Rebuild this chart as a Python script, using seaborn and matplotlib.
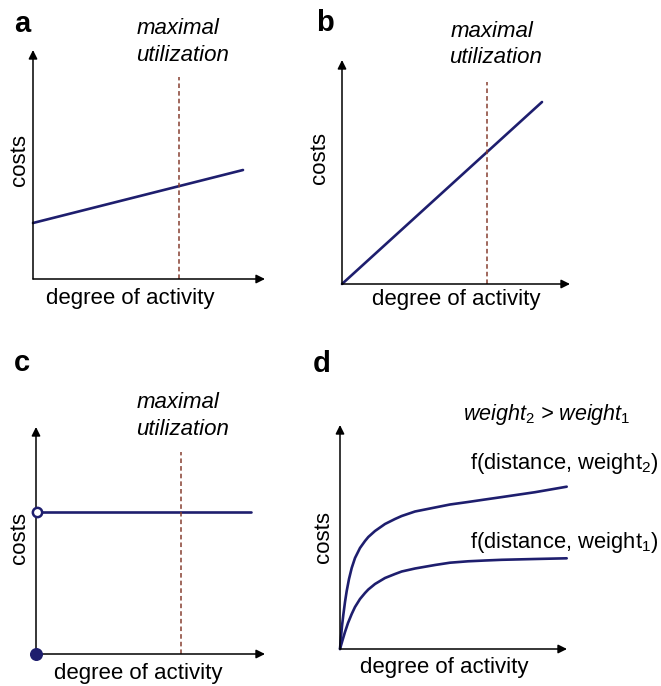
import numpy as np
import pandas as pd
import matplotlib
matplotlib.use("Agg")
import matplotlib.pyplot as plt
import seaborn as sns

# values (units: pixels from each panel's origin)
a_x = [0, 210]
a_y = [56, 109]
b_x = [0, 200]
b_y = [0, 182]
c_x = [0, 215]
c_y = [142, 142]
d_x2 = [0, 1, 2, 3.3, 5, 6.7, 9, 11.7, 15, 20, 25, 28.3, 35, 45, 55, 61.7,
        75, 95, 110, 128, 145, 161.7, 178, 195, 210, 226.7]
d_w2 = [0, 12, 23, 34, 47, 58, 70, 81, 91, 101, 108, 112, 118, 125, 130, 133,
        137.5, 141.5, 144.5, 147, 149.5, 151.9, 154.3, 156.8, 159.4, 162.3]
d_x1 = [0, 2, 5, 8, 11.7, 15, 20, 25, 28.3, 35, 45, 55, 61.7, 75, 95, 110,
        128, 145, 161.7, 195, 226.7]
d_w1 = [0, 7, 17, 26, 35, 42, 50, 56, 59.5, 65, 71, 75, 77.5, 80.5, 84,
        86.3, 87.7, 88.5, 89.2, 90, 90.7]
max_util = {"a": 146, "b": 145, "c": 145}
max_util_top = 202

sns.set_theme(style="white")
plt.rcParams["font.family"] = ["Liberation Sans", "DejaVu Sans"]
plt.rcParams["text.color"] = "black"
plt.rcParams["mathtext.fontset"] = "custom"
plt.rcParams["mathtext.rm"] = "Liberation Sans"
plt.rcParams["mathtext.it"] = "Liberation Sans:italic"

W, H = 661, 686
fig = plt.figure(figsize=(W / 100, H / 100), dpi=100)
fig.patch.set_facecolor("white")

LINE = "#1e1e6e"
DASH = "#863f30"


def px(x, y):
    return x / W, 1 - y / H


def make_axes(x0, y0, x1, ytop):
    # x0,y0 = origin in pixels, x1 = end of x arrow, ytop = tip of y arrow
    w, h = x1 - x0, y0 - ytop
    ax = fig.add_axes([x0 / W, 1 - y0 / H, w / W, h / H])
    ax.set_xlim(0, w)
    ax.set_ylim(0, h)
    ax.axis("off")
    kw = dict(arrowstyle="-|>", color="black", lw=1.1, mutation_scale=13,
              shrinkA=0, shrinkB=0)
    ax.annotate("", xy=(1, 0), xytext=(0, 0), xycoords="axes fraction",
                arrowprops=kw, annotation_clip=False)
    ax.annotate("", xy=(0, 1), xytext=(0, 0), xycoords="axes fraction",
                arrowprops=kw, annotation_clip=False)
    return ax


def labels(letter, lpos, xlab, ylab):
    fig.text(*px(*lpos), letter, fontsize=21, fontweight="bold",
             ha="center", va="center")
    fig.text(*px(*xlab), "degree of activity", fontsize=16,
             ha="center", va="baseline")
    fig.text(*px(*ylab), "costs", fontsize=16, rotation=90,
             ha="center", va="center")


def util_text(xc, y1, y2):
    fig.text(*px(xc, y1), "maximal", fontsize=16, style="italic",
             ha="center", va="baseline")
    fig.text(*px(xc + 4, y2), "utilization", fontsize=16, style="italic",
             ha="center", va="baseline")


# panel a
ax = make_axes(33, 279, 265, 50)
sns.lineplot(x=a_x, y=a_y, ax=ax, color=LINE, lw=1.9, clip_on=False)
ax.vlines(max_util["a"], 0, max_util_top, colors=DASH, lw=1.1,
          linestyles=(0, (3, 2)))
labels("a", (22, 24), (130, 304), (20, 160))
util_text(178, 34, 61)

# panel b
ax = make_axes(342, 284, 570, 60)
sns.lineplot(x=b_x, y=b_y, ax=ax, color=LINE, lw=1.9, clip_on=False)
ax.vlines(max_util["b"], 0, max_util_top, colors=DASH, lw=1.1,
          linestyles=(0, (3, 2)))
labels("b", (325, 23), (456, 305), (319, 158))
util_text(492, 37, 63)

# panel c
ax = make_axes(36, 654, 265, 427)
sns.lineplot(x=c_x, y=c_y, ax=ax, color=LINE, lw=1.9, clip_on=False)
ax.vlines(max_util["c"], 0, max_util_top, colors=DASH, lw=1.1,
          linestyles=(0, (3, 2)))
ax.scatter([c_x[0] + 1], [c_y[0]], s=45, facecolor="white", edgecolor=LINE,
           linewidth=1.8, zorder=5, clip_on=False)
ax.scatter([0], [0], s=70, color=LINE, zorder=5, clip_on=False)
labels("c", (22, 363), (138, 679), (20, 538))
util_text(178, 408, 435)

# panel d
ax = make_axes(340, 649, 567, 425)
curves = pd.concat([
    pd.DataFrame({"x": d_x2, "y": d_w2, "w": "weight2"}),
    pd.DataFrame({"x": d_x1, "y": d_w1, "w": "weight1"}),
])
for name, grp in curves.groupby("w"):
    sns.lineplot(data=grp, x="x", y="y", ax=ax, color=LINE, lw=1.9,
                 clip_on=False)
labels("d", (322, 364), (444, 673), (323, 537))
fig.text(*px(463, 420), r"$\mathit{weight}_\mathit{2}$ > $\mathit{weight}_\mathit{1}$",
         fontsize=15.5, style="italic", ha="left", va="baseline")
fig.text(*px(470, 469), r"f(distance, weight$_2$)", fontsize=15.8,
         ha="left", va="baseline")
fig.text(*px(470, 548), r"f(distance, weight$_1$)", fontsize=15.8,
         ha="left", va="baseline")

fig.savefig("out.png", dpi=100, facecolor="white")
